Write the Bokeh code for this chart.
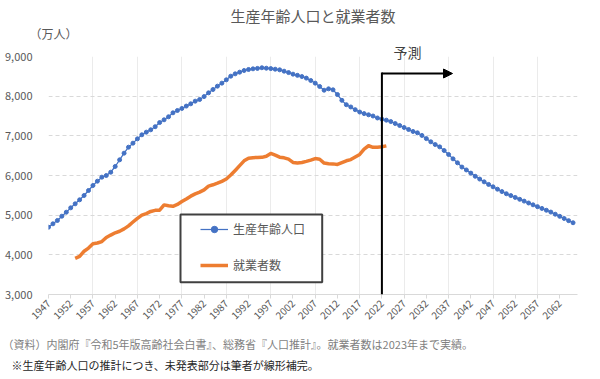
import math
from bokeh.plotting import figure
from bokeh.models import (Range1d, FixedTicker, NumeralTickFormatter, Title, Arrow,
                          NormalHead, Legend, LegendItem, BoxAnnotation)
from bokeh.embed import file_html
from bokeh.resources import INLINE

# ---------------- data ----------------
pop_years = list(range(1947, 2066))
working_age_pop = [
    4697, 4782, 4866, 4974, 5075, 5185, 5286, 5387, 5496, 5622,   # 1947-1956
    5748, 5857, 5958, 6000, 6083, 6227, 6395, 6563, 6714, 6815,   # 1957-1966
    6924, 7026, 7093, 7152, 7230, 7335, 7404, 7480, 7580, 7639,   # 1967-1976
    7690, 7750, 7807, 7874, 7916, 7990, 8084, 8168, 8252, 8328,   # 1977-1986
    8412, 8504, 8563, 8605, 8647, 8673, 8689, 8700, 8716, 8705,   # 1987-1996
    8695, 8680, 8664, 8630, 8595, 8555, 8525, 8495, 8455, 8395,   # 1997-2006
    8328, 8244, 8150, 8185, 8160, 8042, 7895, 7785, 7728, 7660,   # 2007-2016
    7600, 7560, 7530, 7500, 7450, 7420, 7395, 7360, 7310, 7260,   # 2017-2026
    7210, 7160, 7110, 7076, 7010, 6930, 6850, 6780, 6722, 6630,   # 2027-2036
    6530, 6420, 6320, 6213, 6140, 6060, 5980, 5910, 5840, 5775,   # 2037-2046
    5715, 5655, 5595, 5540, 5494, 5447, 5400, 5354, 5307, 5261,   # 2047-2056
    5215, 5170, 5124, 5078, 5024, 4970, 4916, 4862, 4809,         # 2057-2065
]
emp_years = list(range(1953, 2024))
employed = [
    3913, 3963, 4090, 4171, 4281, 4298, 4335, 4436, 4498, 4556,   # 1953-1962
    4595, 4655, 4730, 4827, 4920, 5002, 5040, 5094, 5121, 5126,   # 1963-1972
    5259, 5237, 5223, 5271, 5342, 5408, 5479, 5536, 5581, 5638,   # 1973-1982
    5733, 5766, 5807, 5853, 5911, 6011, 6128, 6249, 6369, 6436,   # 1983-1992
    6450, 6453, 6457, 6486, 6557, 6514, 6462, 6446, 6412, 6330,   # 1993-2002
    6316, 6329, 6356, 6389, 6427, 6409, 6314, 6298, 6293, 6280,   # 2003-2012
    6326, 6371, 6401, 6465, 6530, 6664, 6750, 6710, 6713, 6723,   # 2013-2022
    6747,                                                         # 2023
]
assert len(working_age_pop) == len(pop_years)
assert len(employed) == len(emp_years)

x_tick_years = [1947, 1952, 1957, 1962, 1967, 1972, 1977, 1982, 1987, 1992, 1997, 2002,
                2007, 2012, 2017, 2022, 2027, 2032, 2037, 2042, 2047, 2052, 2057, 2062]
x_grid_years = [1947, 1957, 1967, 1977, 1987, 1997, 2007, 2017, 2027, 2037, 2047, 2057]
y_ticks = [3000, 4000, 5000, 6000, 7000, 8000, 9000]

forecast_start = 2022
title_text = "生産年齢人口と就業者数"
unit_text = "（万人）"
forecast_text = "予測"
series1_name = "生産年齢人口"
series2_name = "就業者数"
note1 = "（資料）内閣府『令和5年版高齢社会白書』、総務省『人口推計』。就業者数は2023年まで実績。"
note2 = "※生産年齢人口の推計につき、未発表部分は筆者が線形補完。"

# ---------------- layout ----------------
X0, X1 = 1947, 2066
Y0, Y1 = 3000, 9000
FIG_W, FIG_H = 600, 379
FRAME_L, FRAME_R, FRAME_T, FRAME_B = 48, 577, 56, 294   # page pixels

def px_x(px):
    return X0 + (px - FRAME_L) / (FRAME_R - FRAME_L) * (X1 - X0)

def px_y(py):
    return Y0 + (FRAME_B - py) / (FRAME_B - FRAME_T) * (Y1 - Y0)

FONT = "Noto Sans CJK JP"
BLUE = "#4472C4"
ORANGE = "#ED7D31"
TXT = "#595959"

p = figure(width=FIG_W, height=FIG_H, output_backend="svg", toolbar_location=None,
           x_range=Range1d(X0, X1), y_range=Range1d(Y0, Y1))
p.min_border_left = FRAME_L
p.min_border_right = FIG_W - FRAME_R
p.min_border_top = FRAME_T
p.min_border_bottom = FIG_H - FRAME_B
p.outline_line_color = None
p.background_fill_color = "white"
p.border_fill_color = "white"

# axes
p.xaxis.ticker = FixedTicker(ticks=x_tick_years)
p.xaxis.axis_line_color = "#D9D9D9"
p.xaxis.major_tick_line_color = "#D9D9D9"
p.xaxis.major_tick_out = 4
p.xaxis.major_tick_in = 0
p.xaxis.minor_tick_line_color = None
p.xaxis.major_label_orientation = math.pi / 4
p.xaxis.major_label_text_font = FONT
p.xaxis.major_label_text_font_size = "10px"
p.xaxis.major_label_text_color = TXT
p.xaxis.major_label_standoff = 3

p.yaxis.ticker = FixedTicker(ticks=y_ticks)
p.yaxis.formatter = NumeralTickFormatter(format="0,0")
p.yaxis.axis_line_color = None
p.yaxis.major_tick_line_color = None
p.yaxis.minor_tick_line_color = None
p.yaxis.major_label_text_font = FONT
p.yaxis.major_label_text_font_size = "11px"
p.yaxis.major_label_text_color = TXT
p.yaxis.major_label_standoff = 10

p.xgrid.ticker = FixedTicker(ticks=x_grid_years)
p.xgrid.grid_line_color = "#EBEBEB"
p.xgrid.grid_line_width = 1
p.ygrid.grid_line_color = "#D9D9D9"
p.ygrid.grid_line_dash = "4 3"
p.ygrid.grid_line_width = 1

# series
r_pop_line = p.line(pop_years, working_age_pop, line_color=BLUE, line_width=1.25)
r_pop_pts = p.scatter(pop_years, working_age_pop, size=4, fill_color=BLUE, line_color=BLUE)
r_emp = p.line(emp_years, employed, line_color=ORANGE, line_width=3.5, line_join="round")

# forecast marker
p.add_layout(Arrow(end=None, x_start=forecast_start, y_start=Y0,
                   x_end=forecast_start, y_end=px_y(72), line_color="black", line_width=2))
p.add_layout(Arrow(end=NormalHead(size=9, fill_color="black", line_color="black"),
                   x_start=forecast_start, y_start=px_y(73), x_end=px_x(452), y_end=px_y(73),
                   line_color="black", line_width=2))

# legend frame and legend
p.add_layout(BoxAnnotation(left=px_x(180), right=px_x(321.7), top=px_y(214), bottom=px_y(281.7),
                           fill_color="white", fill_alpha=1.0, line_color="#404040",
                           line_width=2, line_alpha=1.0))
legend = Legend(items=[LegendItem(label=series1_name, renderers=[r_pop_line, r_pop_pts]),
                       LegendItem(label=series2_name, renderers=[r_emp])],
                location=(200 - FRAME_L, FRAME_B - 273),
                padding=0, margin=0, spacing=19, glyph_width=28, glyph_height=16,
                label_height=16, label_standoff=5,
                label_text_font=FONT, label_text_font_size="12px", label_text_color=TXT,
                border_line_alpha=0, background_fill_alpha=0)
p.add_layout(legend, "center")

# texts in side panels (first "above" item sits nearest the frame)
p.add_layout(Title(text=forecast_text, align="left", offset=393 - FRAME_L,
                   vertical_align="middle", standoff=-13,
                   text_font=FONT, text_font_size="14px", text_font_style="normal",
                   text_color="#404040"), "above")
p.add_layout(Title(text=unit_text, align="left", offset=29 - FRAME_L,
                   vertical_align="middle", standoff=10,
                   text_font=FONT, text_font_size="12px", text_font_style="normal",
                   text_color=TXT), "above")
p.add_layout(Title(text=title_text, align="center", offset=287 - (FRAME_L + FRAME_R) / 2,
                   vertical_align="bottom", standoff=-14,
                   text_font=FONT, text_font_size="15px", text_font_style="normal",
                   text_color=TXT), "above")
p.add_layout(Title(text=note1, align="left", offset=2 - FRAME_L,
                   vertical_align="middle", standoff=19,
                   text_font=FONT, text_font_size="11px", text_font_style="normal",
                   text_color="#7F7F7F"), "below")
p.add_layout(Title(text=note2, align="left", offset=11 - FRAME_L,
                   vertical_align="middle", standoff=-14,
                   text_font=FONT, text_font_size="11px", text_font_style="normal",
                   text_color="#262626"), "below")

open("out.html", "w").write(file_html(p, INLINE))
